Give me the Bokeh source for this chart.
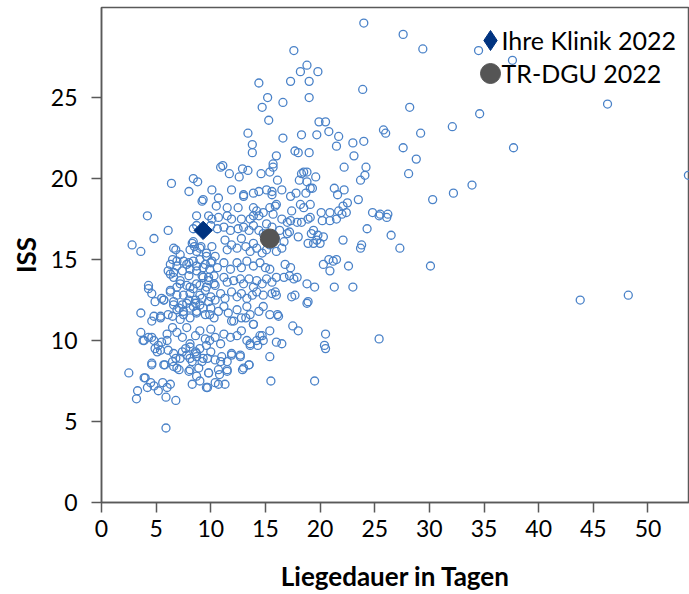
import math
from bokeh.plotting import figure
from bokeh.models import ColumnDataSource, Range1d, Legend, LegendItem, FixedTicker, Label
from bokeh.embed import file_html
from bokeh.resources import INLINE

# --- data ---
pts = [
 # upper region
 (24.0,29.6),(17.6,27.9),(18.8,27.0),(18.2,26.6),(19.8,26.6),(17.3,26.0),(19.0,26.0),(14.4,25.9),(23.9,25.5),
 (15.2,25.0),(19.0,25.0),(16.6,24.7),(14.7,24.4),(15.3,23.6),(19.9,23.5),(20.5,23.5),(13.4,22.8),(18.3,22.7),
 (19.7,22.7),(20.8,22.9),(21.7,22.6),(16.6,22.5),(13.8,22.1),(21.5,22.0),(23.0,22.2),(24.0,22.3),(17.7,21.7),
 (18.0,21.6),(19.0,21.6),(13.8,21.6),(16.0,21.4),(23.1,21.4),(15.7,20.9),(15.7,20.7),(10.9,20.7),(11.1,20.8),
 (12.9,20.6),(13.4,20.5),(11.7,20.3),(14.6,20.3),(15.4,20.4),(22.2,20.7),(24.2,20.7),(24.1,20.2),(23.7,19.9),
 (18.3,20.3),(18.5,20.4),(18.8,20.4),(19.6,20.1),(18.1,19.9),(18.8,19.8),(12.6,20.1),(16.1,19.9),(6.4,19.7),
 (8.4,20.0),(8.8,19.8),(8.0,19.2),(10.1,19.3),(11.9,19.3),(10.7,18.8),(9.3,18.7),(13.0,19.0),(13.0,18.9),
 (13.9,19.1),(14.4,19.2),(15.1,19.3),(15.6,19.2),(15.6,19.0),(16.5,19.3),(17.3,18.9),(17.8,19.1),(18.7,19.1),
 (19.1,19.4),(19.3,19.4),(21.3,19.4),(22.2,19.3),(21.6,19.0),(23.5,18.7),(16.0,18.4),
 # far right
 (27.6,28.9),(29.4,28.0),(34.5,27.9),(37.6,27.3),(46.3,24.6),(28.2,24.4),(34.6,24.0),(32.1,23.2),(25.8,23.0),
 (26.0,22.8),(29.2,22.8),(27.6,21.9),(37.7,21.9),(28.8,21.2),(28.1,20.3),(53.7,20.2),(33.9,19.6),(32.2,19.1),
 (30.3,18.7),(25.5,17.8),(26.2,17.8),(26.5,16.5),(27.3,15.7),(30.1,14.6),(43.8,12.5),(48.2,12.8),
 # core, y 17-18.6
 (9.2,18.6),(10.5,18.3),(11.5,18.2),(12.5,18.2),(13.9,18.2),(14.2,18.0),(14.8,17.9),(15.4,18.2),(15.9,18.3),
 (15.7,17.8),(17.4,18.0),(18.2,18.4),(18.5,18.2),(19.1,18.4),(20.1,17.9),(20.9,17.9),(21.7,18.0),(22.0,17.8),
 (22.4,17.9),(22.1,18.3),(22.5,18.5),(24.8,17.9),(25.4,17.7),(26.1,17.6),(4.2,17.7),(8.7,17.7),(9.8,17.7),
 (10.1,17.5),(10.7,17.6),(11.5,17.7),(11.9,17.5),(12.8,17.5),(13.6,17.5),(13.9,17.7),(14.4,17.7),(15.1,17.2),
 (16.5,17.5),(17.0,17.3),(17.3,17.4),(17.9,17.3),(18.3,17.3),(18.9,17.5),(19.1,17.6),(20.2,17.4),(20.9,17.4),
 (21.5,17.5),(24.3,16.9),
 # core, y 16-17
 (6.1,16.8),(8.7,17.1),(10.0,17.1),(10.6,16.9),(11.2,17.0),(11.8,16.8),(12.5,16.9),(13.0,17.0),(13.5,16.8),
 (13.9,17.1),(14.4,16.8),(14.8,16.6),(15.6,17.0),(16.3,16.8),(17.0,16.6),(17.2,16.7),(18.0,16.4),(19.4,16.8),
 (19.8,16.5),(20.3,16.4),(20.0,16.0),(19.4,16.0),(18.9,16.0),(22.1,16.2),(23.7,15.7),(23.8,15.9),(19.2,16.6),
 (19.7,16.2),(8.4,16.9),
 # core, y 15-16
 (2.8,15.9),(3.6,15.5),(4.8,16.3),(6.6,15.7),(7.2,15.3),(8.1,15.6),(8.4,16.1),(9.0,15.7),(9.6,15.4),(10.1,15.8),
 (10.4,15.2),(11.3,16.2),(11.5,15.6),(11.9,15.9),(12.4,15.7),(12.8,16.3),(13.2,15.8),(13.6,15.5),(13.9,16.0),
 (14.2,15.7),(14.7,15.4),(15.1,15.6),(15.4,15.9),(16.0,15.5),(16.5,15.7),(16.7,16.1),(15.9,16.3),(6.8,15.6),
 (8.3,16.0),(8.5,15.8),(9.1,15.8),(8.7,15.5),(9.0,15.0),(9.6,15.2),(6.5,15.0),(7.5,14.9),(10.1,14.9),
 # core, y 14-15
 (6.3,14.7),(6.9,14.9),(6.1,14.3),(7.8,14.7),(8.4,14.9),(8.7,14.6),(9.5,14.7),(10.0,14.8),(10.6,14.5),(11.2,14.8),
 (11.8,14.4),(12.4,14.8),(12.8,14.5),(13.3,14.9),(13.9,14.6),(14.5,14.8),(15.0,14.5),(20.3,14.7),(20.8,15.0),
 (21.2,14.9),(21.5,15.0),(22.6,14.6),(20.9,14.3),(16.8,14.7),(17.3,14.5),(15.4,14.4),(6.9,14.6),(6.6,14.2),
 (6.3,14.1),(7.4,14.3),(8.1,14.4),(8.0,14.8),(9.3,14.5),(9.9,14.4),(8.7,14.3),(9.2,14.0),(10.3,14.0),
 # core, y 13-14
 (6.6,13.9),(7.2,13.7),(8.0,14.0),(8.1,13.3),(8.7,13.5),(9.3,13.9),(9.8,13.7),(10.4,13.4),(11.2,13.9),(11.5,13.6),
 (12.1,13.7),(12.7,13.8),(13.0,13.5),(13.5,13.8),(13.9,13.3),(14.2,13.7),(14.7,13.5),(15.1,13.8),(15.6,13.6),
 (16.0,13.9),(16.7,13.9),(17.2,14.0),(17.6,13.8),(17.9,13.9),(18.8,13.5),(19.5,13.3),(21.3,13.3),(23.0,13.3),
 (4.3,13.4),(7.2,13.5),(7.8,13.4),(8.4,13.2),(9.0,13.4),(9.6,13.3),(10.3,13.5),(9.8,13.9),
 # core, y 12-13
 (4.3,13.2),(4.6,12.9),(5.5,12.6),(6.3,13.1),(6.9,13.3),(7.5,12.8),(8.1,12.9),(8.6,12.5),(9.0,12.8),(9.5,13.1),
 (10.0,12.7),(10.4,12.5),(10.9,12.9),(11.3,12.6),(11.9,13.0),(12.4,12.7),(12.8,12.9),(13.3,12.6),(13.8,12.8),
 (14.2,13.0),(14.8,12.8),(15.6,12.9),(15.9,13.0),(16.0,12.8),(17.4,12.7),(17.7,12.8),(18.9,12.4),(18.8,12.3),
 (4.9,12.4),(5.7,12.5),(6.3,13.0),(6.9,12.8),(6.6,12.4),(7.4,12.2),(8.0,12.5),(8.6,12.3),(9.2,12.6),(9.8,12.4),
 # core, y 11-12
 (3.6,11.7),(4.6,11.2),(5.4,11.5),(5.7,12.5),(6.1,11.6),(6.6,12.2),(7.1,12.0),(7.5,11.8),(7.8,12.3),(8.1,11.4),
 (8.4,12.1),(8.7,11.8),(9.0,12.2),(9.5,11.6),(10.0,12.0),(10.3,11.4),(10.7,11.8),(11.2,12.1),(11.6,11.7),
 (11.9,11.2),(12.4,11.9),(12.8,11.4),(13.3,12.1),(13.6,11.6),(13.9,11.0),(14.4,11.8),(14.8,12.1),(15.4,11.6),
 (16.2,11.5),(16.1,11.6),(6.9,11.9),(7.5,11.6),(8.1,12.0),(8.7,11.7),(9.3,12.0),(9.9,11.6),(6.5,11.5),(7.2,11.3),
 (5.4,11.4),(4.8,11.5),(13.2,11.4),(12.1,11.2),(13.9,11.0),
 # core, y 10-11
 (17.5,10.9),(18.0,10.6),(20.5,10.4),(20.4,9.7),(20.5,9.5),(25.4,10.1),(3.6,10.5),(3.9,10.0),(4.6,10.2),(4.9,9.5),
 (5.5,9.9),(6.0,10.4),(6.5,10.8),(6.9,10.5),(7.4,10.2),(7.8,10.8),(8.1,9.8),(8.6,10.3),(9.0,10.6),(9.5,10.1),
 (10.0,10.7),(10.4,10.2),(10.9,9.8),(11.2,10.4),(11.8,10.2),(12.4,10.3),(12.8,10.6),(13.3,10.0),(13.6,9.8),
 (14.2,10.0),(14.7,10.3),(15.4,10.6),(16.0,9.9),(16.5,9.8),(14.5,10.3),(14.8,10.0),(13.6,9.7),(14.3,9.7),
 (3.8,10.0),(4.3,10.2),(4.8,10.0),(5.2,9.7),(6.0,10.0),(9.9,10.0),(9.6,9.7),
 # y 9-10
 (5.1,9.3),(6.1,9.4),(6.8,8.9),(7.4,9.3),(7.8,9.1),(8.3,8.7),(8.7,9.2),(9.3,8.9),(10.0,9.3),(10.4,8.8),(11.0,9.0),
 (11.5,8.7),(11.9,9.2),(12.7,9.1),(15.4,9.0),(12.7,9.0),(11.9,9.1),(13.5,8.5),(13.0,8.3),(10.9,8.7),(5.4,9.4),
 (6.6,9.2),(7.7,9.5),(8.1,9.6),(8.6,9.3),(9.0,9.5),(8.1,8.9),(8.7,9.0),(9.2,8.7),(9.7,8.9),
 # y < 9
 (2.5,8.0),(3.9,7.7),(4.6,8.6),(5.7,8.5),(6.6,8.4),(7.1,8.2),(8.0,8.1),(8.9,8.3),(9.8,8.0),(10.7,8.2),(11.5,8.2),
 (12.9,8.2),(13.5,8.5),(4.6,8.5),(5.8,8.5),(6.5,8.7),(6.9,8.3),(7.2,8.9),(3.3,6.9),(3.2,6.4),(4.0,7.7),(4.5,7.4),
 (4.8,7.2),(4.2,7.1),(5.6,7.4),(6.3,7.3),(6.0,7.1),(5.2,6.9),(5.9,6.5),(6.8,6.3),(5.9,4.6),(8.1,8.2),(8.7,7.8),
 (9.0,7.5),(8.3,7.3),(9.7,7.1),(9.8,8.0),(10.4,7.4),(9.6,7.1),(10.7,7.3),(11.3,7.3),(11.5,8.1),(10.8,7.9),
 (15.5,7.5),(19.5,7.5),
]
liegedauer = [p[0] for p in pts]
iss = [p[1] for p in pts]

klinik_x = [9.3]
klinik_y = [16.8]
dgu_x = [15.4]
dgu_y = [16.3]

legend_labels = ["Ihre Klinik  2022", "TR-DGU  2022"]
x_ticks = [0, 5, 10, 15, 20, 25, 30, 35, 40, 45, 50]
y_ticks = [0, 5, 10, 15, 20, 25]

FONT = "Lato"
NAVY = "#003380"
GREY = "#555555"

p = figure(width=689, height=594, output_backend="svg", toolbar_location=None,
           x_range=Range1d(0, 53.8), y_range=Range1d(0, 30.56),
           min_border_left=101, min_border_right=0, min_border_top=7, min_border_bottom=92)
p.grid.visible = False
p.background_fill_color = "white"
p.border_fill_color = "white"
p.outline_line_color = "#595959"
p.outline_line_width = 1.5

src = ColumnDataSource(dict(x=liegedauer, y=iss))
p.scatter("x", "y", source=src, marker="circle", size=8, fill_color=None,
          line_color="#4a82c8", line_width=1.3)

p.scatter(klinik_x, klinik_y, marker="square", angle=math.pi/4, size=13,
          fill_color=NAVY, line_color=NAVY)
r_d = p.scatter(dgu_x, dgu_y, marker="circle", size=19,
                fill_color=GREY, line_color=GREY)
# legend-only key for the clinic (legend keys ignore marker angle)
r_k_key = p.scatter(klinik_x, klinik_y, marker="diamond", size=20,
                    fill_color=NAVY, line_color=NAVY, visible=False)

for ax in (p.xaxis[0], p.yaxis[0]):
    ax.axis_line_color = "#595959"
    ax.axis_line_width = 1.5
    ax.major_tick_line_color = "#595959"
    ax.major_tick_line_width = 1.5
    ax.major_tick_out = 10
    ax.major_tick_in = 0
    ax.minor_tick_line_color = None
    ax.major_label_text_font = FONT
    ax.major_label_text_font_size = "23px"
    ax.major_label_text_color = "#000000"
    ax.axis_label_text_font = FONT
    ax.axis_label_text_font_style = "bold"
    ax.axis_label_text_font_size = "26px"
    ax.axis_label_text_color = "#000000"

p.xaxis.ticker = FixedTicker(ticks=x_ticks)
p.yaxis.ticker = FixedTicker(ticks=y_ticks)
p.xaxis.axis_label = "Liegedauer in Tagen"
p.yaxis.axis_label = "ISS"
p.xaxis.major_label_standoff = 7
p.yaxis.major_label_standoff = 14
p.xaxis.axis_label_standoff = 20
p.yaxis.axis_label_standoff = 6

# legend keys (one legend per row so that rows can sit closer than the key box)
for rend, loc in ((r_k_key, (364, 437)), (r_d, (364, 404))):
    lg = Legend(items=[LegendItem(label=" ", renderers=[rend])], location=loc,
                orientation="vertical", border_line_color=None, background_fill_alpha=0,
                glyph_width=50, glyph_height=50, padding=0, margin=0, label_standoff=0,
                label_width=1, label_text_font_size="1px")
    p.add_layout(lg)

for txt, ypos in zip(legend_labels, (463, 430)):
    p.add_layout(Label(x=400, y=ypos, x_units="screen", y_units="screen", text=txt,
                       text_font=FONT, text_font_size="25px", text_color="#000000",
                       text_baseline="middle", text_align="left"))

open("out.html", "w").write(file_html(p, INLINE))
